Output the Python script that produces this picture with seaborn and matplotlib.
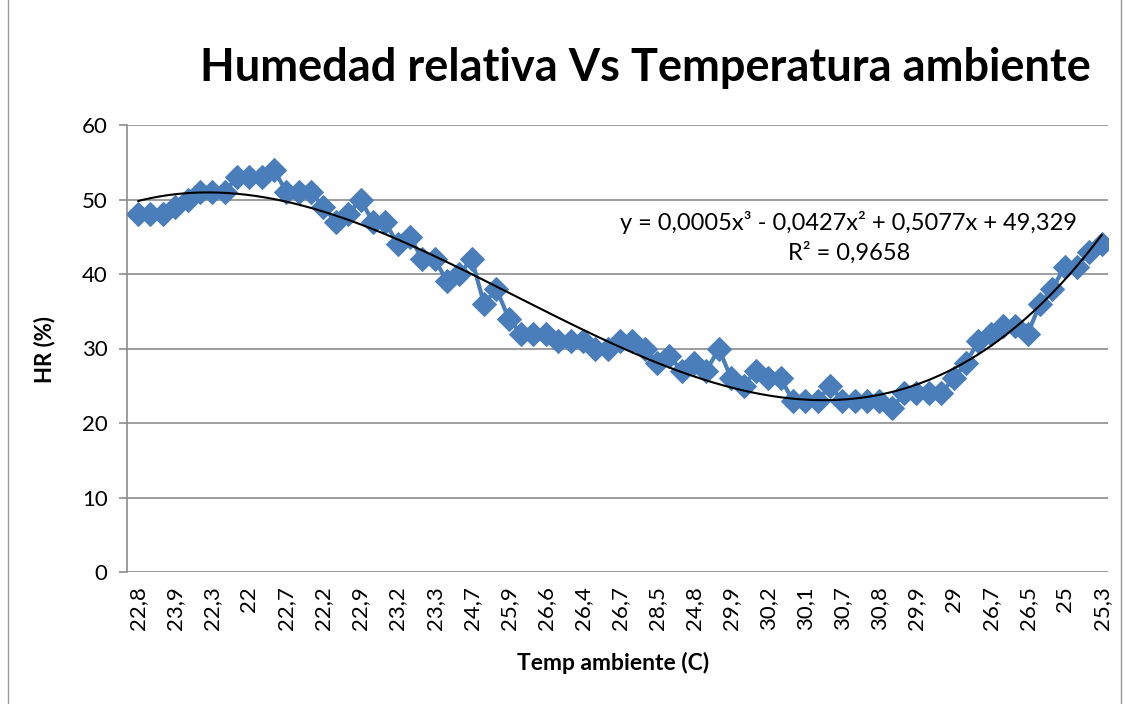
import numpy as np
import pandas as pd
import matplotlib
matplotlib.use("Agg")
import matplotlib.pyplot as plt
import seaborn as sns

# Relative humidity readings (%), one per sample, in recording order
hr_values = [48, 48, 48, 49, 50, 51, 51, 51, 53, 53, 53, 54, 51, 51, 51,
             49, 47, 48, 50, 47, 47, 44, 45, 42, 42, 39, 40, 42, 36, 38, 34,
             32, 32, 32, 31, 31, 31, 30, 30, 31, 31, 30, 28, 29, 27, 28,
             27, 30, 26, 25, 27, 26, 26, 23, 23, 23, 25, 23, 23, 23, 23, 22, 24,
             24, 24, 24, 26, 28, 31, 32, 33, 33, 32, 36, 38, 41, 41, 43, 44]

# Ambient temperature shown on the category axis (every third sample)
temp_labels = ["22,8", "23,9", "22,3", "22", "22,7", "22,2", "22,9", "23,2", "23,3",
               "24,7", "25,9", "26,6", "26,4", "26,7", "28,5", "24,8", "29,9", "30,2",
               "30,1", "30,7", "30,8", "29,9", "29", "26,7", "26,5", "25", "25,3"]
label_step = 3

y_ticks = [0, 10, 20, 30, 40, 50, 60]
title = "Humedad relativa Vs Temperatura ambiente"
equation = "y = 0,0005x³ - 0,0427x² + 0,5077x + 49,329"
r2_text = "R² = 0,9658"

sns.set_theme(style="white")
plt.rcParams["font.family"] = ["Lato", "DejaVu Sans"]
plt.rcParams["text.color"] = "black"
plt.rcParams["xtick.color"] = "black"
plt.rcParams["ytick.color"] = "black"

W, H = 1126, 704
fig = plt.figure(figsize=(W / 100, H / 100), dpi=100)
fig.patch.set_facecolor("white")

# chart-area frame
fig.add_artist(plt.Rectangle((8 / W, -0.01), (1121 - 8) / W, 1.02,
                             transform=fig.transFigure, fill=False,
                             edgecolor="#9a9a9a", linewidth=1.0))

left, right, top, bottom = 127, 1108, 125, 572
ax = fig.add_axes([left / W, 1 - bottom / H, (right - left) / W, (bottom - top) / H])

df = pd.DataFrame({"idx": np.arange(len(hr_values)), "hr": hr_values})

# horizontal gridlines
for t in y_ticks:
    ax.axhline(t, color="#8c8c8c", linewidth=1.2, zorder=0)

sns.lineplot(data=df, x="idx", y="hr", ax=ax, color="#4a7ebb", linewidth=3.0,
             marker="D", markersize=12.5, markeredgecolor="#4a7ebb",
             markerfacecolor="#4a7ebb", zorder=3)

# cubic polynomial trendline over the sample number (1..n)
n = len(hr_values)
xs = np.arange(1, n + 1)
coef = np.polyfit(xs, hr_values, 3)
xd = np.linspace(1, n, 400)
ax.plot(xd - 1, np.polyval(coef, xd), color="black", linewidth=1.5, zorder=4)

ax.set_xlim(-0.9, n - 0.5)
ax.set_ylim(0, 60)
ax.set_yticks(y_ticks)
ax.set_yticklabels([str(t) for t in y_ticks], fontsize=16)
tick_pos = np.arange(0, n, label_step)
ax.set_xticks(tick_pos)
ax.set_xticklabels(temp_labels, rotation=90, fontsize=16)
ax.tick_params(axis="x", length=0, pad=10)
ax.tick_params(axis="y", length=6, width=1.2, color="#8c8c8c", left=True, pad=8)

for side in ["top", "right", "bottom"]:
    ax.spines[side].set_visible(False)
ax.spines["left"].set_color("#8c8c8c")
ax.spines["left"].set_linewidth(1.2)

ax.set_xlabel("")
ax.set_ylabel("")
fig.text(45 / W, 1 - 350 / H, "HR (%)", rotation=90, fontsize=16, fontweight="bold",
         ha="center", va="center")
fig.text(613 / W, 1 - 663 / H, "Temp ambiente (C)", fontsize=16.5, fontweight="bold",
         ha="center", va="center")
fig.text(645 / W, 1 - 68 / H, title, fontsize=32.5, fontweight="bold",
         ha="center", va="center")
fig.text(849 / W, 1 - 222 / H, equation, fontsize=17, ha="center", va="center")
fig.text(849 / W, 1 - 253 / H, r2_text, fontsize=17, ha="center", va="center")

fig.savefig("out.png", dpi=100, facecolor="white")
